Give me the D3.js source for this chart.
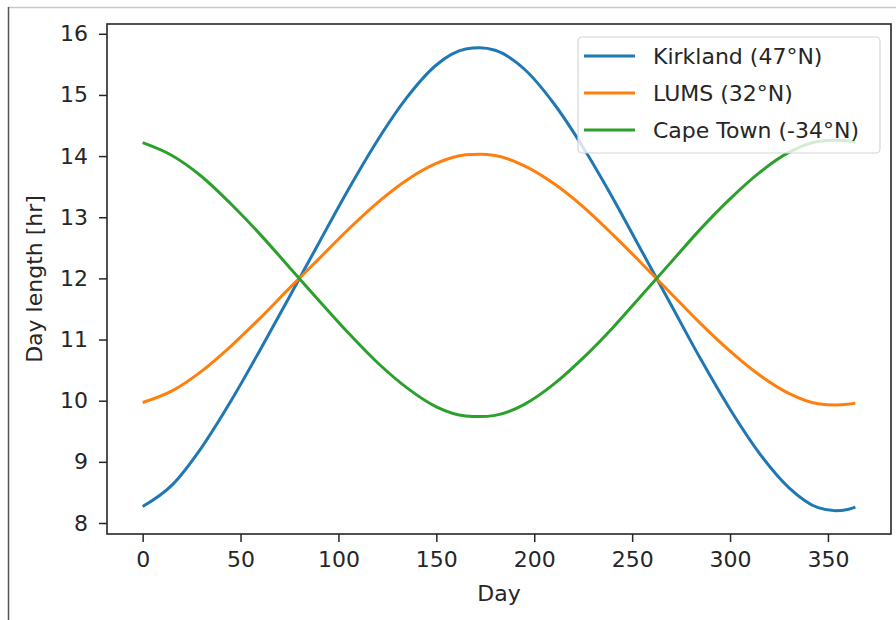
<!DOCTYPE html>
<html>
    <head>
        <title>Day length</title>
        <script src="https://d3js.org/d3.v7.min.js"></script>
        <style>
            body {
                margin: 0;
                background-color: #ffffff;
            }
            svg text {
                font-family: 'DejaVu Sans', sans-serif;
                fill: #262626;
            }
        </style>
    </head>
    <body>
        <script>
            const days = [0, 15, 30, 45, 60, 75, 90, 105, 120, 135, 150, 165, 172, 180, 195,
                210, 225, 240, 255, 270, 285, 300, 315, 330, 345, 354, 360, 364]

            const kirkland = [8.27, 8.62, 9.23, 9.99, 10.83, 11.70, 12.58, 13.45, 14.26, 14.96, 15.49, 15.75, 15.77, 15.73, 15.42,
                14.86, 14.14, 13.32, 12.44, 11.56, 10.68, 9.86, 9.14, 8.58, 8.25, 8.20, 8.22, 8.26]
            const lums = [9.97, 10.16, 10.48, 10.89, 11.35, 11.84, 12.32, 12.80, 13.24, 13.61, 13.88, 14.02, 14.03, 14.01, 13.84,
                13.55, 13.17, 12.72, 12.24, 11.75, 11.26, 10.81, 10.42, 10.12, 9.95, 9.93, 9.94, 9.96]
            const capeTown = [14.22, 14.01, 13.67, 13.22, 12.72, 12.18, 11.64, 11.11, 10.62, 10.21, 9.90, 9.75, 9.74, 9.76, 9.94,
                10.27, 10.70, 11.19, 11.73, 12.27, 12.81, 13.30, 13.73, 14.06, 14.24, 14.26, 14.25, 14.23]

            const seriesNames = ['Kirkland (47°N)', 'LUMS (32°N)', 'Cape Town (-34°N)']
            const seriesValues = [kirkland, lums, capeTown]
            const colors = ['#1f77b4', '#ff7f0e', '#2ca02c']

            const xTicks = [0, 50, 100, 150, 200, 250, 300, 350]
            const yTicks = [8, 9, 10, 11, 12, 13, 14, 15, 16]

            const box = { left: 107, right: 891, top: 24, bottom: 534 }
            const fontSize = 22

            const svg = d3.select('body').append('svg')
                .attr('width', 896)
                .attr('height', 620)

            // screenshot frame
            svg.append('line')
                .attr('x1', 8).attr('y1', 7.5).attr('x2', 896).attr('y2', 7.5)
                .attr('stroke', '#c8c8c8').attr('stroke-width', 1.5)
            svg.append('line')
                .attr('x1', 8.5).attr('y1', 7).attr('x2', 8.5).attr('y2', 620)
                .attr('stroke', '#555').attr('stroke-width', 1.5)

            const xScale = d3.scaleLinear().domain([-18.2, 382.2]).range([box.left, box.right])
            const yScale = d3.scaleLinear().domain([7.82, 16.16]).range([box.bottom, box.top])

            const xAxis = svg.append('g')
                .attr('transform', `translate(0, ${box.bottom})`)
                .call(d3.axisBottom(xScale).tickValues(xTicks).tickSize(8).tickPadding(9))
            const yAxis = svg.append('g')
                .attr('transform', `translate(${box.left}, 0)`)
                .call(d3.axisLeft(yScale).tickValues(yTicks).tickSize(8).tickPadding(11))

            for (const ax of [xAxis, yAxis]) {
                ax.select('.domain').remove()
                ax.selectAll('.tick line').attr('stroke', '#262626').attr('stroke-width', 1.5)
                ax.selectAll('.tick text').attr('font-size', fontSize).attr('fill', '#262626')
                    .attr('font-family', "'DejaVu Sans', sans-serif")
            }

            const line = d3.line()
                .x((d, i) => xScale(days[i]))
                .y(d => yScale(d))
                .curve(d3.curveMonotoneX)

            svg.selectAll('.series')
                .data(seriesValues).enter()
                .append('path')
                    .attr('class', 'series')
                    .attr('d', d => line(d))
                    .attr('fill', 'none')
                    .attr('stroke', (d, i) => colors[i])
                    .attr('stroke-width', 3)

            svg.append('rect')
                .attr('x', box.left).attr('y', box.top)
                .attr('width', box.right - box.left).attr('height', box.bottom - box.top)
                .attr('fill', 'none')
                .attr('stroke', '#262626')
                .attr('stroke-width', 1.6)

            // legend
            const legend = svg.append('g').attr('transform', 'translate(578, 37)')
            legend.append('rect')
                .attr('width', 302).attr('height', 116)
                .attr('rx', 4)
                .attr('fill', 'white').attr('fill-opacity', 0.8)
                .attr('stroke', '#d6d6d6').attr('stroke-width', 1.2)

            const items = legend.selectAll('.item')
                .data(seriesNames).enter()
                .append('g')
                    .attr('class', 'item')
                    .attr('transform', (d, i) => `translate(0, ${19 + i * 37})`)
            items.append('line')
                .attr('x1', 6).attr('x2', 57)
                .attr('stroke', (d, i) => colors[i])
                .attr('stroke-width', 3)
            items.append('text')
                .attr('x', 75).attr('dy', '0.36em')
                .attr('font-size', fontSize)
                .text(d => d)

            svg.append('text')
                .attr('x', (box.left + box.right) / 2).attr('y', 601)
                .attr('text-anchor', 'middle')
                .attr('font-size', fontSize)
                .text('Day')

            svg.append('text')
                .attr('transform', `translate(42, ${(box.top + box.bottom) / 2}) rotate(-90)`)
                .attr('text-anchor', 'middle')
                .attr('font-size', fontSize)
                .text('Day length [hr]')
        </script>
    </body>
</html>
